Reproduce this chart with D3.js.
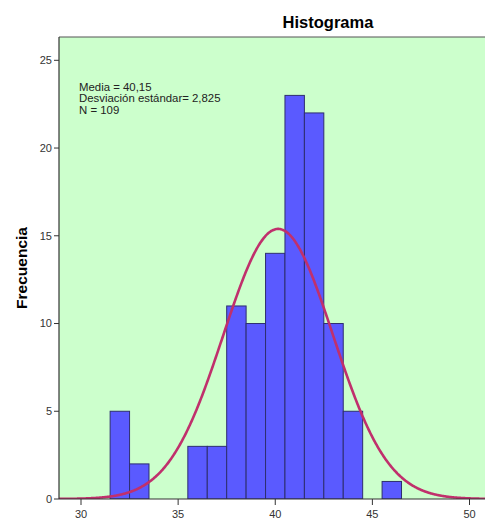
<!DOCTYPE html>
<html><head><meta charset="utf-8">
<script src="https://cdn.jsdelivr.net/npm/d3@7"></script>
<style>body{margin:0;background:#fff}svg{display:block}</style>
</head><body>
<svg id="c" width="485" height="519"></svg>
<script>
const binStarts = [31.5, 32.5, 35.5, 36.5, 37.5, 38.5, 39.5, 40.5, 41.5, 42.5, 43.5, 45.5];
const counts    = [5,    2,    3,    3,    11,   10,   14,   23,   22,   10,   5,    1];
const binWidth = 1;
const mean = 40.15, sd = 2.825, n = 109;
const xTicks = [30, 35, 40, 45, 50];
const yTicks = [0, 5, 10, 15, 20, 25];
const statLines = ["Media = 40,15", "Desviación estándar= 2,825", "N = 109"];

const svg = d3.select("#c");
const x = d3.scaleLinear().domain([30, 50]).range([81, 469.5]);
const y = d3.scaleLinear().domain([0, 25]).range([499, 60.3]);
const pL = 59, pT = 37, pB = 499, pR = 520;
const FF = "Arial, Liberation Sans, sans-serif";

svg.append("defs").append("clipPath").attr("id","clip")
  .append("rect").attr("x",pL).attr("y",pT).attr("width",pR-pL).attr("height",pB-pT);

svg.append("rect").attr("x",pL).attr("y",pT).attr("width",pR-pL).attr("height",pB-pT)
  .attr("fill","#ccffcc");

const g = svg.append("g").attr("clip-path","url(#clip)");
g.selectAll("rect.bar").data(binStarts).join("rect").attr("class","bar")
  .attr("x", d => x(d)).attr("width", d => x(d+binWidth)-x(d))
  .attr("y", (d,i) => y(counts[i])).attr("height", (d,i) => y(0)-y(counts[i]))
  .attr("fill","#5a5aff").attr("stroke","#2e2e70").attr("stroke-width",1);

const xs = d3.range(0, 601).map(i => 28.8 + i*(52-28.8)/600);
const pdf = v => n*binWidth/(sd*Math.sqrt(2*Math.PI))*Math.exp(-0.5*((v-mean)/sd)**2);
g.append("path").datum(xs)
  .attr("d", d3.line().x(d => x(d)).y(d => y(pdf(d))).curve(d3.curveBasis))
  .attr("fill","none").attr("stroke","#c0306c").attr("stroke-width",2.6);

// frame
svg.append("line").attr("x1",pL).attr("x2",pR).attr("y1",pT).attr("y2",pT).attr("stroke","#555").attr("stroke-width",1.2);
svg.append("line").attr("x1",pL).attr("x2",pL).attr("y1",pT).attr("y2",pB).attr("stroke","#333").attr("stroke-width",1.2);
svg.append("line").attr("x1",pL).attr("x2",pR).attr("y1",pB).attr("y2",pB).attr("stroke","#333").attr("stroke-width",1.2);

// y axis ticks
const yt = svg.append("g");
yt.selectAll("line").data(yTicks).join("line")
  .attr("x1",54).attr("x2",pL).attr("y1",d=>y(d)).attr("y2",d=>y(d)).attr("stroke","#333");
yt.selectAll("text").data(yTicks).join("text")
  .attr("x",52).attr("y",d=>y(d)).attr("dy","0.35em").attr("text-anchor","end")
  .attr("font-family",FF).attr("font-size",11).attr("fill","#333")
  .text(d=>d);

// x axis ticks
const xt = svg.append("g");
xt.selectAll("line").data(xTicks).join("line")
  .attr("x1",d=>x(d)).attr("x2",d=>x(d)).attr("y1",pB).attr("y2",pB+6).attr("stroke","#333");
xt.selectAll("text").data(xTicks).join("text")
  .attr("x",d=>x(d)).attr("y",517.5).attr("text-anchor","middle")
  .attr("font-family",FF).attr("font-size",11).attr("fill","#333")
  .text(d=>d);

// title
svg.append("text").attr("x",328).attr("y",28).attr("text-anchor","middle")
  .attr("font-family",FF).attr("font-size",16.5).attr("font-weight","bold")
  .attr("fill","#000").text("Histograma");

// y label
svg.append("text").attr("transform","translate(27,268) rotate(-90)").attr("text-anchor","middle")
  .attr("font-family",FF).attr("font-size",15.5).attr("font-weight","bold")
  .attr("fill","#000").text("Frecuencia");

// stats
svg.append("g").selectAll("text").data(statLines).join("text")
  .attr("x",79).attr("y",(d,i)=>90.5+i*11.7)
  .attr("font-family",FF).attr("font-size",11.4).attr("fill","#222")
  .text(d=>d);
</script>
</body></html>
